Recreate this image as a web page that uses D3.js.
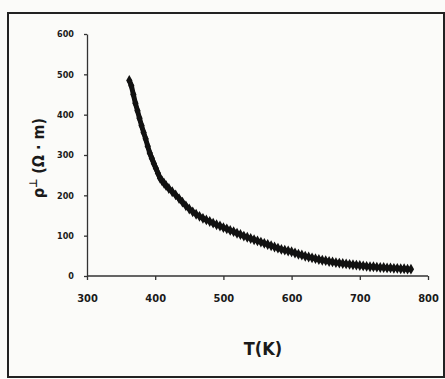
<!DOCTYPE html>
<html>
<head>
<meta charset="UTF-8" />
<title>Resistivity vs temperature</title>
<style>
  body {
    margin: 0;
    background: #fbfbf9;
  }
  svg text {
    font-family: "DejaVu Sans Condensed", "DejaVu Sans", sans-serif;
    font-stretch: condensed;
    font-weight: bold;
    fill: #1a1a1a;
  }
  .axis path, .axis line {
    stroke: #333;
    stroke-width: 1.3;
  }
</style>
<script src="https://d3js.org/d3.v7.min.js"></script>
</head>
<body>
<div id="chart"></div>
<script>
  // data
  const temps = [362, 365, 368, 371, 374, 377, 380, 383, 386, 389, 392, 395, 398, 401,
                 404, 407, 410, 413, 416, 420, 425, 430, 435, 440, 445, 450, 455, 460,
                 465, 470, 475, 480, 485, 490, 495, 500, 505, 510, 515, 520, 525, 530,
                 535, 540, 545, 550, 555, 560, 565, 570, 575, 580, 585, 590, 595, 600,
                 605, 610, 615, 620, 625, 630, 635, 640, 645, 650, 655, 660, 665, 670,
                 675, 680, 685, 690, 695, 700, 705, 710, 715, 720, 725, 730, 735, 740,
                 745, 750, 755, 760, 765, 770, 775];
  const rho = [485, 472, 450, 428, 410, 391, 373, 356, 340, 322, 305, 292, 279, 267,
               255, 243, 236, 230, 224, 217, 209, 201, 192, 183, 174, 166, 159, 153,
               148, 143, 139, 135, 131, 127, 124, 120, 117, 113, 110, 106, 103, 99,
               96, 93, 90, 87, 84, 81, 78, 75, 72, 69, 66, 64, 62, 60,
               57, 54, 52, 49, 47, 45, 43, 41, 39, 38, 36, 35, 33, 32,
               31, 30, 29, 28, 27, 26, 25, 24, 23, 23, 22, 21, 21, 20,
               20, 19, 19, 18, 18, 17, 17];
  const xTicks = [300, 400, 500, 600, 700, 800];
  const yTicks = [0, 100, 200, 300, 400, 500, 600];

  const width = 445, height = 379;

  const svg = d3.select('#chart').append('svg')
                .attr('width', width)
                .attr('height', height);

  // outer frame
  svg.append('rect')
     .attr('x', 8).attr('y', 13)
     .attr('width', 436).attr('height', 364)
     .attr('fill', 'none')
     .attr('stroke', '#222')
     .attr('stroke-width', 2);

  const x = d3.scaleLinear().domain([300, 800]).range([87, 428]);
  const y = d3.scaleLinear().domain([0, 600]).range([276, 34]);

  // axes
  const yAxis = svg.append('g')
     .attr('class', 'axis')
     .attr('transform', 'translate(87,0)')
     .call(d3.axisLeft(y).tickValues(yTicks).tickSize(3).tickSizeOuter(0).tickPadding(10));
  yAxis.selectAll('text').style('font-size', '9px');

  const xAxis = svg.append('g')
     .attr('class', 'axis')
     .attr('transform', 'translate(0,276)')
     .call(d3.axisBottom(x).tickValues(xTicks).tickSize(4).tickSizeOuter(0).tickPadding(14));
  xAxis.selectAll('text').style('font-size', '11px');
  xAxis.select('.domain').attr('d', 'M87,0H428');

  // data
  const pts = temps.map((t, i) => ({ t: t, r: rho[i] }));

  svg.append('path')
     .datum(pts)
     .attr('fill', 'none')
     .attr('stroke', '#111')
     .attr('stroke-width', 5)
     .attr('stroke-linejoin', 'round')
     .attr('d', d3.line().x(d => x(d.t)).y(d => y(d.r)));

  svg.selectAll('.pt')
     .data(pts)
     .enter()
     .append('path')
     .attr('class', 'pt')
     .attr('d', d3.symbol().type(d3.symbolDiamond).size(34))
     .attr('transform', d => `translate(${x(d.t)},${y(d.r)})`)
     .attr('fill', '#111');

  // axis titles
  svg.append('text')
     .attr('x', 263).attr('y', 355)
     .attr('text-anchor', 'middle')
     .style('font-size', '18px')
     .text('T(K)');

  const yl = svg.append('text')
     .attr('transform', 'translate(44,158) rotate(-90)')
     .attr('text-anchor', 'middle')
     .style('font-size', '16px');
  yl.append('tspan').text('ρ');
  yl.append('tspan').attr('dy', -7).style('font-size', '11px').text('⊥');
  yl.append('tspan').attr('dy', 7).text(' (Ω · m)');
</script>
</body>
</html>
